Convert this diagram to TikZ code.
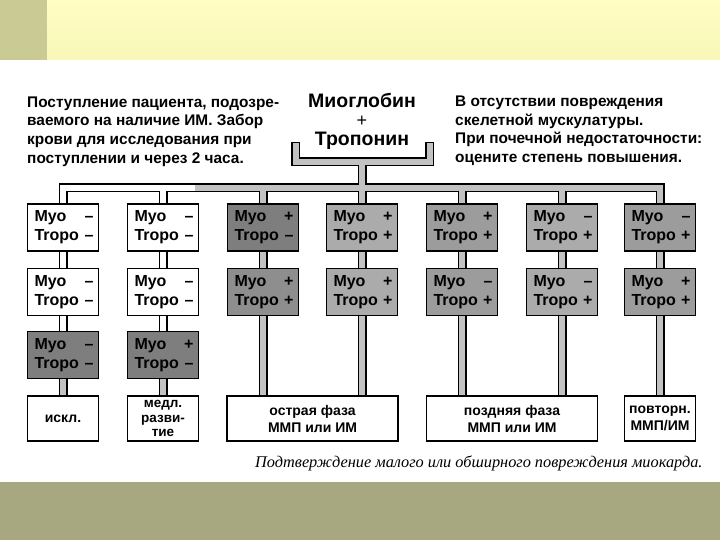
\documentclass[tikz,border=0pt]{standalone}
\usepackage{fontspec}
\setmainfont{Liberation Sans}
\newfontfamily\capfont{Liberation Serif}
\definecolor{bandTop}{HTML}{FFFDC3}
\definecolor{bandBot}{HTML}{F8F7B9}
\definecolor{bandL}{HTML}{CACA95}
\definecolor{bandB}{HTML}{A8A880}
\definecolor{pipegray}{HTML}{C2C2C2}
\definecolor{dkA}{HTML}{7E7E7E}
\definecolor{dkB}{HTML}{8E8E8E}
\definecolor{midG}{HTML}{9C9C9C}
\definecolor{ltG}{HTML}{ABABAB}
\pgfdeclarelayer{bg}
\pgfdeclarelayer{pipes}
\pgfsetlayers{bg,pipes,main}
\newcommand{\mt}[2]{\hspace*{2pt}Myo\hfill #1\\\hspace*{2pt}Tropo\hfill #2}
\begin{document}
\begin{tikzpicture}[x=1pt,y=-1pt,
  txt/.style={font=\bfseries\fontsize{15.4}{18.6}\selectfont, inner sep=0pt, align=left},
  box/.style={draw=black, line width=1.5pt, minimum width=71pt, minimum height=47pt,
    inner xsep=5pt, inner ysep=0pt, text width=61pt, align=left,
    font=\bfseries\fontsize{16}{19}\selectfont},
  endbox/.style={draw=black, line width=1.5pt, fill=white, minimum height=45pt,
    inner sep=0.5pt, align=center, font=\bfseries\fontsize{14}{17}\selectfont},
  pipeo/.style={draw=black, line width=9pt, line join=miter},
  pipew/.style={draw=white, line width=6pt, line join=miter},
  pipeg/.style={draw=pipegray, line width=6pt, line join=miter}]
\begin{pgfonlayer}{bg}
\fill[white] (0,0) rectangle (720,540);
\end{pgfonlayer}
\path[use as bounding box] (0,0) rectangle (720,540);
% bands
\shade[top color=bandTop, bottom color=bandBot] (0,0) rectangle (720,60);
\fill[bandL] (0,0) rectangle (47,60);
\fill[bandB] (0,482) rectangle (720,540);
% header texts
\node[txt, anchor=north west] (tl) at (27,96.5) {Поступление пациента, подозре-\\ваемого на наличие ИМ. Забор\\крови для исследования при\\поступлении и через 2 часа.};
\node[txt, anchor=north west] (tr) at (455,96) {В отсутствии повреждения\\скелетной мускулатуры.\\При почечной недостаточности:\\оцените степень повышения.};
\node[inner sep=0pt, align=center, font=\bfseries\fontsize{19.5}{19}\selectfont] (tc) at (362,121) {Миоглобин\\{\mdseries\fontsize{18}{19}\selectfont +}\\Тропонин};
% boxes row 1
\node[box, fill=white] (b11) at (63,227.5) {\mt{–}{–}};
\node[box, fill=white] (b21) at (163,227.5) {\mt{–}{–}};
\node[box, fill=dkA] (b31) at (263,227.5) {\mt{+}{–}};
\node[box, fill=ltG] (b41) at (362,227.5) {\mt{+}{+}};
\node[box, fill=midG] (b51) at (462,227.5) {\mt{+}{+}};
\node[box, fill=ltG] (b61) at (562,227.5) {\mt{–}{+}};
\node[box, fill=midG] (b71) at (660,227.5) {\mt{–}{+}};
% row 2
\node[box, fill=white] (b12) at (63,292) {\mt{–}{–}};
\node[box, fill=white] (b22) at (163,292) {\mt{–}{–}};
\node[box, fill=dkB] (b32) at (263,292) {\mt{+}{+}};
\node[box, fill=ltG] (b42) at (362,292) {\mt{+}{+}};
\node[box, fill=midG] (b52) at (462,292) {\mt{–}{+}};
\node[box, fill=ltG] (b62) at (562,292) {\mt{–}{+}};
\node[box, fill=midG] (b72) at (660,292) {\mt{+}{+}};
% row 3
\node[box, fill=dkA] (b13) at (63,355) {\mt{–}{–}};
\node[box, fill=dkA] (b23) at (163,355) {\mt{+}{–}};
% end boxes
\node[endbox, minimum width=71pt] (e1) at (63,418.5) {искл.};
\node[endbox, minimum width=71pt, inner sep=0pt, font=\bfseries\fontsize{13.5}{14.6}\selectfont] (e2) at (163,418.5) {медл.\\разви-\\тие};
\node[endbox, minimum width=171pt] (e34) at (312.5,418.5) {острая фаза\\ММП или ИМ};
\node[endbox, minimum width=171pt] (e56) at (512,418.5) {поздняя фаза\\ММП или ИМ};
\node[endbox, minimum width=71pt, inner sep=0pt] (e7) at (660,418.5) {повторн.\\ММП/ИМ};
% caption
\node[font=\capfont\itshape\fontsize{16.3}{18}\selectfont, anchor=base west, inner sep=0pt] (cap) at (255,467) {Подтверждение малого или обширного повреждения миокарда.};
% pipe coordinates
\coordinate (bkL) at (295.5,162);
\coordinate (bkR) at (429.5,162);
\coordinate (bkT) at (362,162);
\coordinate (bkLt) at (295.5,142);
\coordinate (bkRt) at (429.5,142);
\coordinate (bkLi) at (295.5,143.5);
\coordinate (bkRi) at (429.5,143.5);
\coordinate (hL) at (63,188);
\coordinate (hR) at (660,188);
\coordinate (hM) at (195,188);
\begin{pgfonlayer}{pipes}
% outlines
\draw[pipeo] (bkLt) -- (bkL) -- (bkR) -- (bkRt);
\draw[pipeo] (bkT) -- (bkT |- hL);
\draw[pipeo] (b11.north) -- (hL) -- (hR) -- (b71.north);
\foreach \c in {2,...,6} \draw[pipeo] (b\c1.north) -- (b\c1.north |- hL);
\foreach \c in {1,...,7} \draw[pipeo] (b\c1.south) -- (b\c2.north);
\foreach \c in {1,2} {\draw[pipeo] (b\c2.south) -- (b\c3.north); \draw[pipeo] (b\c3.south) -- (e\c.north);}
\draw[pipeo] (b32.south) -- (b32.south |- e34.north);
\draw[pipeo] (b42.south) -- (b42.south |- e34.north);
\draw[pipeo] (b52.south) -- (b52.south |- e56.north);
\draw[pipeo] (b62.south) -- (b62.south |- e56.north);
\draw[pipeo] (b72.south) -- (e7.north);
% interiors
\draw[pipeg] (bkLi) -- (bkL) -- (bkR) -- (bkRi);
\draw[pipew] (b11.north) -- (hL) -- (hM);
\draw[pipeg] (hM) -- (hR) -- (b71.north);
\draw[pipeg] (bkT) -- (bkT |- hL);
\draw[pipew] (b21.north) -- (b21.north |- hL);
\foreach \c in {3,...,6} \draw[pipeg] (b\c1.north) -- (b\c1.north |- hL);
\foreach \c in {1,2} {\draw[pipew] (b\c1.south) -- (b\c2.north); \draw[pipew] (b\c2.south) -- (b\c3.north);}
\foreach \c in {1,2} \draw[pipeg] (b\c3.south) -- (e\c.north);
\foreach \c in {3,...,7} \draw[pipeg] (b\c1.south) -- (b\c2.north);
\draw[pipeg] (b32.south) -- (b32.south |- e34.north);
\draw[pipeg] (b42.south) -- (b42.south |- e34.north);
\draw[pipeg] (b52.south) -- (b52.south |- e56.north);
\draw[pipeg] (b62.south) -- (b62.south |- e56.north);
\draw[pipeg] (b72.south) -- (e7.north);
\end{pgfonlayer}
\end{tikzpicture}
\end{document}
